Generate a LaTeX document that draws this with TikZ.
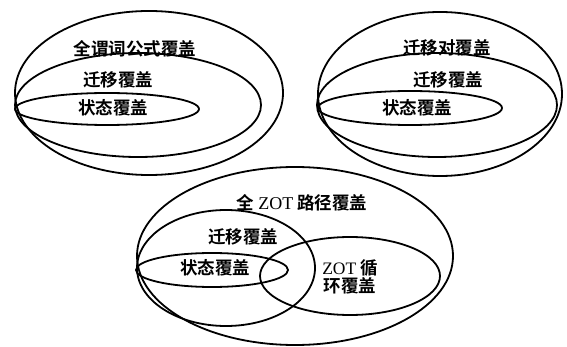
\documentclass[tikz,border=0pt]{standalone}
\usepackage{fontspec}
\setmainfont{Liberation Serif}
\newfontfamily\cjk{Noto Sans CJK SC}[BoldFont={Noto Sans CJK SC Bold}]
\begin{document}
\begin{tikzpicture}[x=1pt,y=-1pt,
  ring/.style={draw=black,line width=1.8pt},
  lab/.style={font=\cjk\bfseries\fontsize{17.5}{19}\selectfont,inner sep=0pt},
  lat/.style={font=\rmfamily\fontsize{18}{19}\selectfont}]
\useasboundingbox (0,0) rectangle (567,347);
% top-left group
\draw[ring] (149,93) ellipse [x radius=134,y radius=82];
\draw[ring] (138,105) ellipse [x radius=123,y radius=52];
\draw[ring] (107,109) ellipse [x radius=92,y radius=16];
\node[lab] (a1) at (135,49) {全谓词公式覆盖};
\node[lab] (a2) at (118,80) {迁移覆盖};
\node[lab] (a3) at (113,108) {状态覆盖};
% top-right group
\draw[ring] (440,94) ellipse [x radius=122,y radius=82];
\draw[ring] (437,105) ellipse [x radius=120,y radius=52];
\draw[ring] (410,108) ellipse [x radius=92,y radius=17];
\node[lab] (b1) at (447,48) {迁移对覆盖};
\node[lab] (b2) at (448,80) {迁移覆盖};
\node[lab] (b3) at (417,108) {状态覆盖};
% bottom group
\draw[ring] (295,256) ellipse [x radius=158,y radius=89];
\draw[ring] (226,268) ellipse [x radius=89,y radius=58];
\draw[ring] (212,270) ellipse [x radius=76,y radius=17];
\draw[ring] (350,276) ellipse [x radius=90,y radius=39];
\node[lab] (c1) at (302,203) {全 {\rmfamily\mdseries\fontsize{18}{19}\selectfont ZOT} 路径覆盖};
\node[lab] (c2) at (243,237) {迁移覆盖};
\node[lab] (c3) at (215,268) {状态覆盖};
\node[lab,align=center] (c4) at (350,277) {{\rmfamily\mdseries ZOT} 循\\[-1pt]环覆盖};
\end{tikzpicture}
\end{document}
